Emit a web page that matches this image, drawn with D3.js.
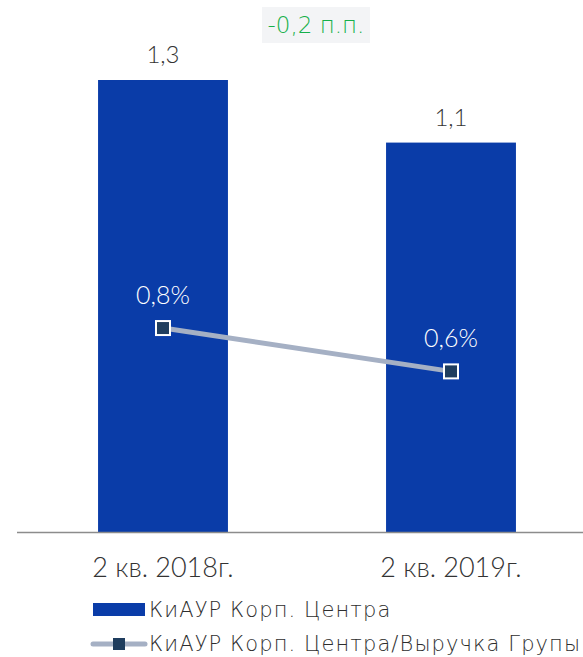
<!DOCTYPE html>
<html>
<head>
<meta charset="utf-8">
<script src="https://cdn.jsdelivr.net/npm/d3@7"></script>
<style>
  body { margin: 0; background: #fff; }
  svg { display: block; font-family: "Lato", sans-serif; font-weight: 300; }
  .wide { font-family: "DejaVu Sans", sans-serif; font-weight: 200; }
</style>
</head>
<body>
<svg id="chart" width="583" height="657"></svg>
<script>
// Chart data.
const categories = ['2 кв. 2018г.', '2 кв. 2019г.'];
const costValues = [1.3, 1.12];      // КиАУР Корп. Центра (bars)
const ratioValues = [0.8, 0.63];     // КиАУР Корп. Центра/Выручка Групы, %
const deltaLabel = '-0,2 п.п.';
const seriesNames = ['КиАУР Корп. Центра', 'КиАУР Корп. Центра/Выручка Групы'];

const svg = d3.select('#chart');
const baseY = 532;
const fmt = v => d3.format('.1f')(v).replace('.', ',');

const x = d3.scaleBand().domain(categories).range([19, 595])
    .paddingInner(0.549).paddingOuter(0.2745);
const y = d3.scaleLinear().domain([0, 1.3]).range([baseY, 80]);
const y2 = d3.scaleLinear().domain([0, 1.773]).range([baseY, 80]);

const rows = categories.map((c, i) => ({ c, v: costValues[i], r: ratioValues[i] }));
const cx = d => x(d.c) + x.bandwidth() / 2;

// bars
svg.append('g').selectAll('rect')
  .data(rows)
  .join('rect')
    .attr('x', d => x(d.c))
    .attr('y', d => y(d.v))
    .attr('width', x.bandwidth())
    .attr('height', d => baseY - y(d.v))
    .attr('fill', '#0a3ca8');

// axis baseline
svg.append('line')
    .attr('x1', 17).attr('x2', 583)
    .attr('y1', baseY + 0.5).attr('y2', baseY + 0.5)
    .attr('stroke', '#8c8c8c').attr('stroke-width', 1.5);

// bar value labels
svg.append('g').selectAll('text')
  .data(rows)
  .join('text')
    .attr('x', cx)
    .attr('y', d => y(d.v) - 17)
    .attr('text-anchor', 'middle')
    .attr('font-size', 24)
    .attr('fill', '#333')
    .text(d => fmt(d.v));

// category labels
svg.append('g').selectAll('text')
  .data(rows)
  .join('text')
    .attr('x', cx)
    .attr('y', 577)
    .attr('text-anchor', 'middle')
    .attr('font-size', 27)
    .attr('fill', '#333')
    .text(d => d.c);

// ratio line
svg.append('path')
    .datum(rows)
    .attr('fill', 'none')
    .attr('stroke', '#a5b0c4')
    .attr('stroke-width', 5)
    .attr('d', d3.line().x(cx).y(d => y2(d.r)));

svg.append('g').selectAll('rect')
  .data(rows)
  .join('rect')
    .attr('x', d => cx(d) - 7)
    .attr('y', d => y2(d.r) - 7)
    .attr('width', 14).attr('height', 14)
    .attr('fill', '#1f3d5e')
    .attr('stroke', '#fff').attr('stroke-width', 2);

svg.append('g').selectAll('text')
  .data(rows)
  .join('text')
    .attr('x', cx)
    .attr('y', d => y2(d.r) - 24)
    .attr('text-anchor', 'middle')
    .attr('font-size', 25)
    .attr('fill', '#fff')
    .text(d => fmt(d.r) + '%');

// delta annotation
const ann = svg.append('g');
ann.append('rect')
    .attr('x', 262).attr('y', 7).attr('width', 108).attr('height', 36)
    .attr('fill', '#f3f4f6');
ann.append('text')
    .attr('class', 'wide')
    .attr('x', 316).attr('y', 33)
    .attr('text-anchor', 'middle')
    .attr('font-size', 23)
    .attr('fill', '#15b04a')
    .text(deltaLabel);

// legend
const leg = svg.append('g');
leg.append('rect')
    .attr('x', 93).attr('y', 603).attr('width', 52).attr('height', 13)
    .attr('fill', '#0a3ca8');
leg.append('text')
    .attr('class', 'wide')
    .attr('x', 149).attr('y', 617)
    .attr('font-size', 21)
    .attr('letter-spacing', 1.1)
    .attr('fill', '#2e2e2e')
    .text(seriesNames[0]);
leg.append('line')
    .attr('x1', 93).attr('x2', 145).attr('y1', 644).attr('y2', 644)
    .attr('stroke', '#a5b0c4').attr('stroke-width', 5)
    .attr('stroke-linecap', 'round');
leg.append('rect')
    .attr('x', 113).attr('y', 638).attr('width', 12).attr('height', 12)
    .attr('fill', '#1f3d5e');
leg.append('text')
    .attr('class', 'wide')
    .attr('x', 149).attr('y', 651)
    .attr('font-size', 21)
    .attr('letter-spacing', 1.1)
    .attr('fill', '#2e2e2e')
    .text(seriesNames[1]);
</script>
</body>
</html>
